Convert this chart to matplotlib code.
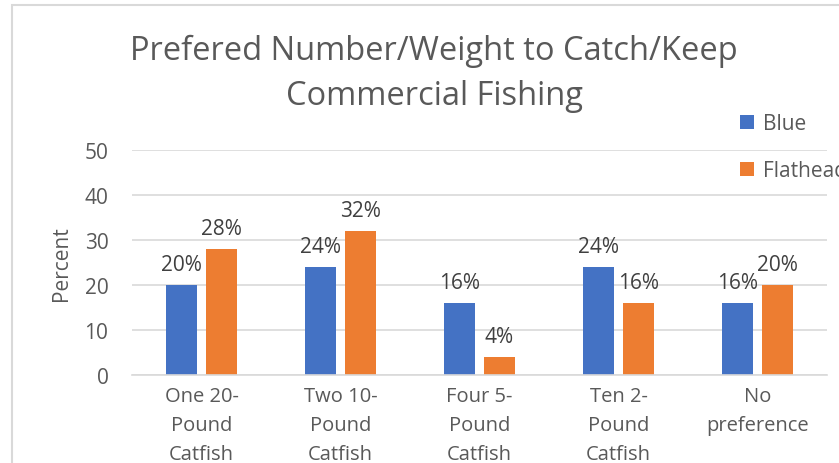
import matplotlib.pyplot as plt
import numpy as np
from matplotlib.patches import Rectangle

categories = ['One 20-\nPound\nCatfish', 'Two 10-\nPound\nCatfish', 'Four 5-\nPound\nCatfish',
              'Ten 2-\nPound\nCatfish', 'No\npreference']
blue = [20, 24, 16, 24, 16]
flathead = [28, 32, 4, 16, 20]

plt.rcParams['font.family'] = ['Open Sans', 'DejaVu Sans']
grey = '#595959'

fig = plt.figure(figsize=(8.39, 4.64), dpi=100)
# chart border (cropped at right/bottom)
fig.patches.append(Rectangle((12 / 839, -0.1), 1.2, 1 - 6 / 464 + 0.1, transform=fig.transFigure,
                             fill=False, edgecolor='#d9d9d9', linewidth=1.5))

ax = fig.add_axes([132 / 839, 1 - 376 / 464, (827 - 132) / 839, (376 - 151) / 464])
x = np.arange(len(categories))
w = 0.225
gap = 0.03
b1 = ax.bar(x - w / 2 - gap, blue, w, color='#4472c4', label='Blue')
b2 = ax.bar(x + w / 2 + gap, flathead, w, color='#ed7d31', label='Flathead')

for bars, vals in ((b1, blue), (b2, flathead)):
    for rect, v in zip(bars, vals):
        ax.annotate(f'{v}%', (rect.get_x() + rect.get_width() / 2, v), xytext=(0, 7),
                    textcoords='offset points', ha='center', va='bottom',
                    fontsize=15, color='#404040')

ax.set_xlim(-0.5, len(categories) - 0.5)
ax.set_ylim(0, 50)
ax.set_yticks(range(0, 51, 10))
ax.yaxis.grid(True, color='#d9d9d9', linewidth=1.2)
ax.set_axisbelow(True)
for s in ['top', 'right', 'left']:
    ax.spines[s].set_visible(False)
ax.spines['bottom'].set_color('#d9d9d9')
ax.spines['bottom'].set_linewidth(1.2)
ax.tick_params(length=0, colors=grey, labelsize=15)
ax.tick_params(axis='y', pad=17)
ax.tick_params(axis='x', pad=8)
ax.set_xticks(x)
ax.set_xticklabels(categories, linespacing=1.6, fontsize=14.5)
ax.set_ylabel('Percent', fontsize=15, color=grey, labelpad=9)

fig.text(434 / 839, 1 - 74 / 464, 'Prefered Number/Weight to Catch/Keep\nCommercial Fishing',
         ha='center', va='center', fontsize=23.5, color=grey, linespacing=1.5)

fig.legend(handles=[b1, b2], loc='upper left', bbox_to_anchor=(740 / 839, 1 - 114 / 464),
           frameon=False, fontsize=15, labelcolor=grey, handlelength=0.65, handleheight=0.65,
           handletextpad=0.45, labelspacing=1.25, borderaxespad=0, borderpad=0)

fig.savefig('out.png', dpi=100)
